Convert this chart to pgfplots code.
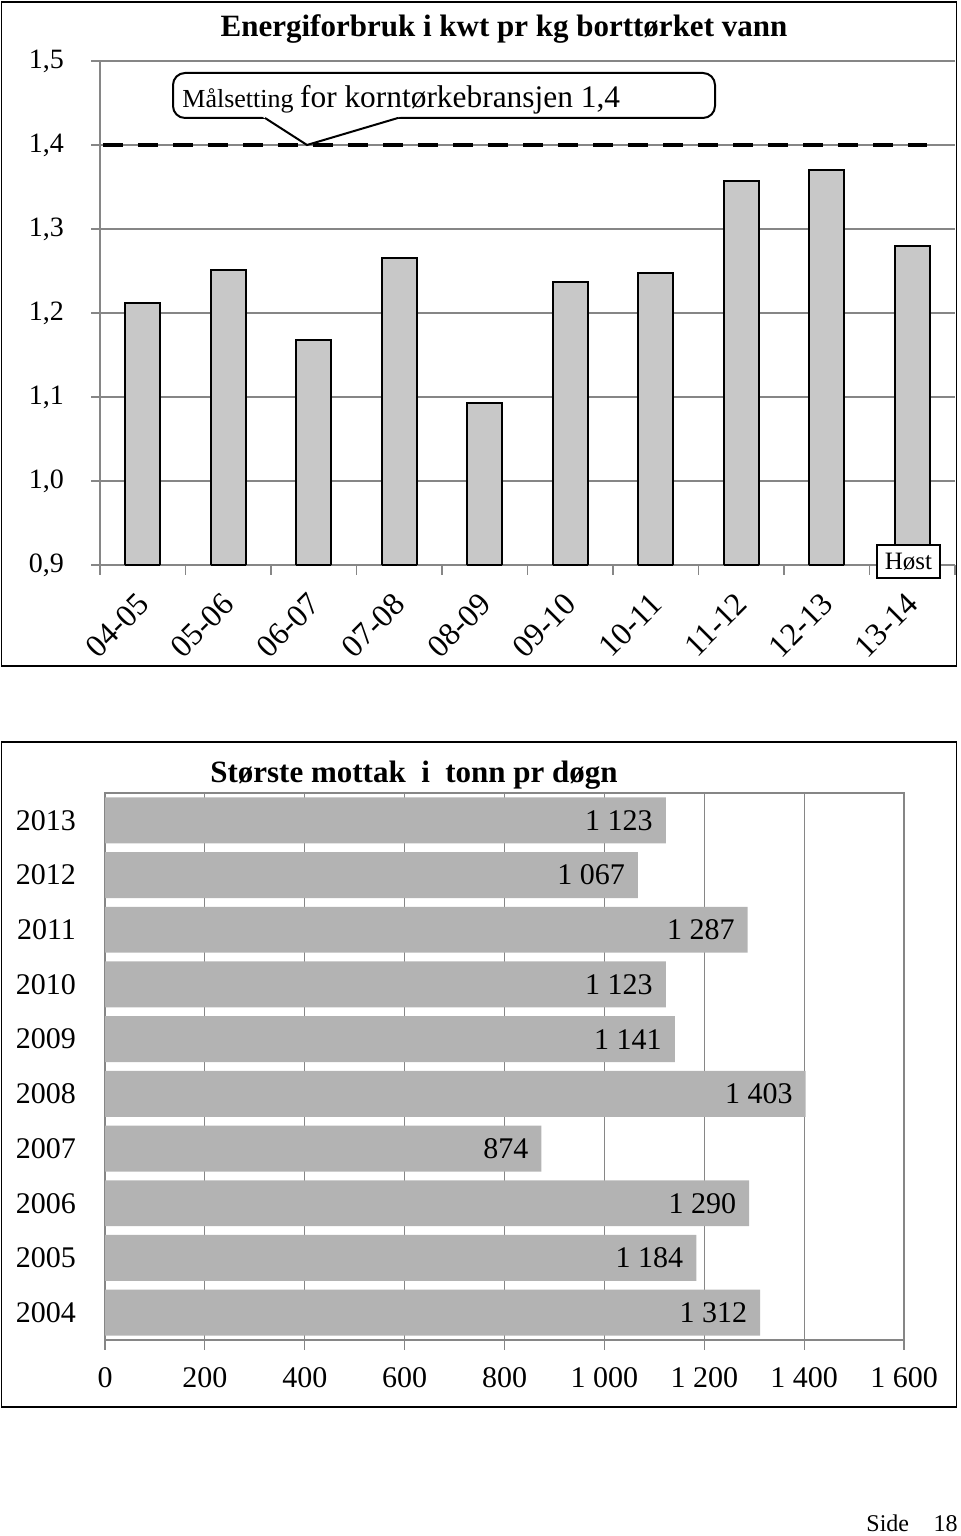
\documentclass[border=0pt]{standalone}
\usepackage{fontspec}
\setmainfont{Liberation Serif}
\usepackage{pgfplots}
\pgfplotsset{compat=1.18}
\definecolor{gridgray}{RGB}{134,134,134}
\definecolor{barA}{RGB}{200,200,200}
\definecolor{barB}{RGB}{179,179,179}
\begin{document}
\begin{tikzpicture}
\useasboundingbox (0,0) rectangle (480pt,768pt);
\begin{scope}[x=0.5pt,y=-0.5pt,yshift=768pt]
\draw[line width=0.8pt] (1.5,2) rectangle (956.5,666);
\draw[line width=0.8pt] (1.5,742) rectangle (956.5,1407);
\end{scope}

% ---------- top chart ----------
\begin{axis}[
  at={(50pt,485.5pt)}, anchor=south west,
  scale only axis, width=427.5pt, height=252pt,
  xmin=-0.5, xmax=9.5, ymin=0.9, ymax=1.5,
  axis x line*=bottom, axis y line*=left,
  axis line style={gridgray, line width=0.6pt},
  ytick={0.9,1,1.1,1.2,1.3,1.4,1.5},
  ymajorgrids, grid style={gridgray, line width=0.6pt},
  /pgf/number format/assume math mode=true,
  yticklabel style={/pgf/number format/use comma, /pgf/number format/fixed, /pgf/number format/fixed zerofill, /pgf/number format/precision=1},
  yticklabel style={font=\fontsize{14}{16}\selectfont, xshift=-10pt},
  xtick={0,1,2,3,4,5,6,7,8,9},
  xticklabels={04-05,05-06,06-07,07-08,08-09,09-10,10-11,11-12,12-13,13-14},
  xticklabel style={xshift=-3.5pt, yshift=-7pt, rotate=45, anchor=north east, font=\fontsize{16}{18}\selectfont, inner sep=1pt},
  major x tick style={draw=none},
  minor xtick={-0.5,0.5,1.5,2.5,3.5,4.5,5.5,6.5,7.5,8.5,9.5},
  minor x tick style={gridgray, line width=0.6pt},
  y tick style={gridgray, line width=0.6pt},
  tick align=outside, major tick length=4.5pt, minor tick length=5pt,
  clip=true,
]
\addplot[ybar, bar width=0.41, fill=barA, draw=black, line width=1.1pt]
  coordinates {(0,1.212) (1,1.251) (2,1.168) (3,1.265) (4,1.093) (5,1.237) (6,1.248) (7,1.357) (8,1.370) (9,1.280)};
\addplot[only marks, mark=-, mark size=8.75pt, mark options={line width=1.1pt, draw=black}]
  coordinates {(0,0.9) (1,0.9) (2,0.9) (3,0.9) (4,0.9) (5,0.9) (6,0.9) (7,0.9) (8,0.9) (9,0.9)};
\addplot[black, line width=2pt, dash pattern=on 10pt off 7.5pt]
  coordinates {(-0.465,1.4) (9.17,1.4)};
\end{axis}

% ---------- bottom chart ----------
\begin{axis}[
  at={(52.5pt,98pt)}, anchor=south west,
  scale only axis, width=399.5pt, height=273.5pt,
  xmin=0, xmax=1600, ymin=-0.5, ymax=9.5,
  axis line style={gridgray, line width=0.6pt},
  xtick={0,200,400,600,800,1000,1200,1400,1600},
  xticklabels={0,200,400,600,800,1\ 000,1\ 200,1\ 400,1\ 600},
  ytick={0,1,2,3,4,5,6,7,8,9},
  yticklabels={2004,2005,2006,2007,2008,2009,2010,2011,2012,2013},
  xmajorgrids, grid style={gridgray, line width=0.6pt},
  x tick style={gridgray, line width=0.6pt}, y tick style={draw=none},
  tick align=outside, major tick length=5pt,
  xtick pos=bottom,
  xticklabel style={font=\fontsize{15}{17}\selectfont, yshift=-5pt},
  yticklabel style={font=\fontsize{15}{17}\selectfont, xshift=-6pt},
  point meta=explicit symbolic,
  nodes near coords,
  every node near coord/.append style={anchor=east, xshift=-3pt, font=\fontsize{15}{17}\selectfont, text=black},
]
\addplot[xbar, bar width=0.84, fill=barB, draw=none]
  coordinates {(1312,0)[1\ 312] (1184,1)[1\ 184] (1290,2)[1\ 290] (874,3)[874] (1403,4)[1\ 403]
               (1141,5)[1\ 141] (1123,6)[1\ 123] (1287,7)[1\ 287] (1067,8)[1\ 067] (1123,9)[1\ 123]};
\end{axis}

% ---------- annotations ----------
\begin{scope}[x=0.5pt,y=-0.5pt,yshift=768pt]
\node[anchor=base, font=\fontsize{15.5}{18}\selectfont\bfseries, inner sep=0pt] at (504,37) {Energiforbruk i kwt pr kg borttørket vann};
\draw[line width=1pt, fill=white, rounded corners=6pt] (265,118) -- (173,118) -- (173,73) -- (715,73) -- (715,118) -- (398,118);
\fill[white] (262,116.5) -- (307,145) -- (401,116.5) -- cycle;
\draw[line width=1pt] (265,118) -- (307,145) -- (398,118);
\node[anchor=base west, inner sep=0pt] at (182,108) {\fontsize{13}{15}\selectfont Målsetting \fontsize{15.7}{18}\selectfont for korntørkebransjen 1,4};
\node[draw=black, line width=0.6pt, fill=white, minimum width=31.5pt, minimum height=16.5pt, inner sep=0pt, font=\fontsize{12.5}{14}\selectfont] at (908.5,561.5) {Høst};
\node[anchor=base, font=\fontsize{15.5}{18}\selectfont\bfseries, inner sep=0pt] at (414,783) {Største mottak\ \ i\ \ tonn pr døgn};
\node[anchor=base west, inner sep=0pt, font=\fontsize{12}{14}\selectfont] at (866,1532) {Side};
\node[anchor=base east, inner sep=0pt, font=\fontsize{12}{14}\selectfont] at (958,1532) {18};
\end{scope}
\end{tikzpicture}
\end{document}
